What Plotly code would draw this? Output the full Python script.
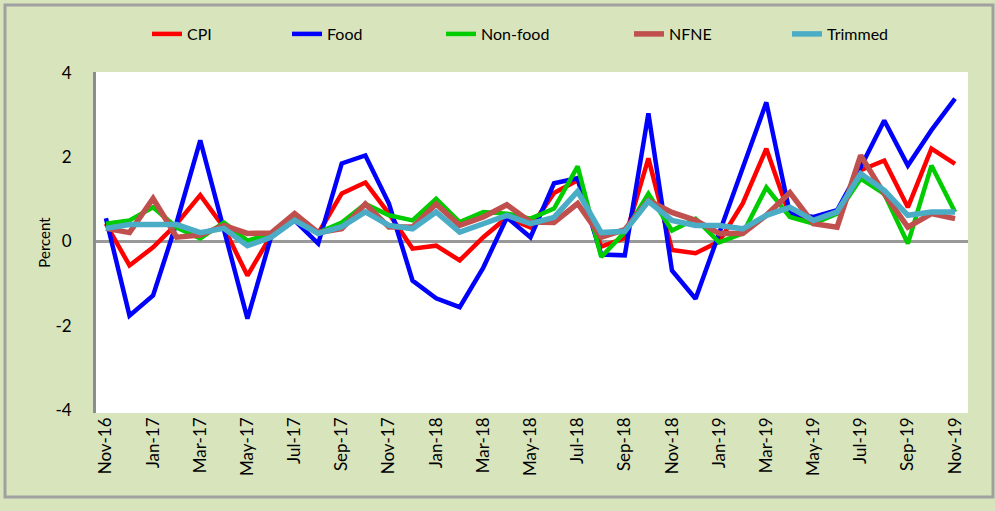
import plotly.graph_objects as go

months = ["Nov-16", "Dec-16", "Jan-17", "Feb-17", "Mar-17", "Apr-17", "May-17", "Jun-17",
          "Jul-17", "Aug-17", "Sep-17", "Oct-17", "Nov-17", "Dec-17", "Jan-18", "Feb-18",
          "Mar-18", "Apr-18", "May-18", "Jun-18", "Jul-18", "Aug-18", "Sep-18", "Oct-18",
          "Nov-18", "Dec-18", "Jan-19", "Feb-19", "Mar-19", "Apr-19", "May-19", "Jun-19",
          "Jul-19", "Aug-19", "Sep-19", "Oct-19", "Nov-19"]

cpi = [0.42, -0.57, -0.14, 0.42, 1.1, 0.33, -0.81, 0.14, 0.57, 0.19, 1.14, 1.4, 0.66,
       -0.17, -0.1, -0.45, 0.1, 0.57, 0.33, 1.15, 1.45, -0.12, 0.08, 1.97, -0.2, -0.28,
       0.0, 0.9, 2.2, 0.6, 0.5, 0.7, 1.69, 1.92, 0.81, 2.2, 1.84]
food = [0.55, -1.76, -1.28, 0.45, 2.4, 0.26, -1.83, 0.1, 0.5, -0.05, 1.85, 2.04, 0.9,
        -0.93, -1.35, -1.56, -0.62, 0.57, 0.1, 1.38, 1.5, -0.31, -0.33, 3.04, -0.69, -1.36,
        0.18, 1.76, 3.3, 0.66, 0.58, 0.74, 1.76, 2.87, 1.8, 2.64, 3.39]
nonfood = [0.42, 0.5, 0.81, 0.33, 0.07, 0.45, 0.02, 0.19, 0.57, 0.21, 0.45, 0.89, 0.62,
           0.5, 1.01, 0.46, 0.7, 0.66, 0.54, 0.78, 1.78, -0.37, 0.22, 1.13, 0.26, 0.54,
           -0.02, 0.19, 1.28, 0.58, 0.42, 0.66, 1.49, 1.13, -0.05, 1.8, 0.7]
nfne = [0.31, 0.21, 1.02, 0.1, 0.15, 0.38, 0.19, 0.2, 0.66, 0.21, 0.3, 0.89, 0.34,
        0.34, 0.89, 0.38, 0.58, 0.87, 0.46, 0.45, 0.9, 0.1, 0.28, 0.97, 0.69, 0.5,
        0.19, 0.19, 0.62, 1.16, 0.42, 0.34, 2.04, 1.13, 0.34, 0.66, 0.54]
trimmed = [0.31, 0.4, 0.4, 0.4, 0.21, 0.31, -0.1, 0.1, 0.5, 0.19, 0.35, 0.7, 0.38,
           0.3, 0.7, 0.22, 0.42, 0.62, 0.42, 0.57, 1.19, 0.21, 0.24, 0.95, 0.5, 0.38,
           0.38, 0.3, 0.62, 0.81, 0.5, 0.7, 1.61, 1.21, 0.62, 0.7, 0.7]

y_ticks = [-4, -2, 0, 2, 4]
y_ticklabels = ["-4", "-2", "0", "2", "4"]

series = [
    ("CPI", cpi, "#FF0000", 4.5),
    ("Food", food, "#0000FF", 4.5),
    ("Non-food", nonfood, "#00CC00", 4.5),
    ("NFNE", nfne, "#C0504D", 5.5),
    ("Trimmed", trimmed, "#4BACC6", 5.5),
]
# pixel x where each legend entry's text begins in the reference
legend_text_px = [187, 327, 481, 669, 827]

FONT = "Lato, 'Open Sans', sans-serif"
L, R, T, B = 96, 27, 72, 98
PW, PH = 995 - L - R, 511 - T - B

fig = go.Figure()
xs = list(range(len(months)))
layout_legends = {}
for k, (name, vals, color, w) in enumerate(series):
    lname = "legend" if k == 0 else f"legend{k + 1}"
    fig.add_trace(go.Scatter(x=xs, y=vals, name=name, mode="lines",
                             line=dict(color=color, width=w), legend=lname))
    layout_legends[lname] = dict(
        x=(legend_text_px[k] - 40 - L) / PW, xanchor="left",
        y=(T + PH - 34) / PH, yanchor="middle",
        font=dict(size=16, family=FONT, color="#000000"),
        itemwidth=30, bgcolor="rgba(0,0,0,0)", orientation="h")

fig.update_layout(
    width=995, height=511,
    paper_bgcolor="#D8E4BC",
    plot_bgcolor="#FFFFFF",
    margin=dict(l=L, r=R, t=T, b=B, autoexpand=False),
    font=dict(family=FONT, color="#000000", size=15),
    showlegend=True,
    xaxis=dict(range=[-0.42, 36.55], tickmode="array", tickvals=xs[::2], ticktext=months[::2],
               tickangle=-90, showgrid=False, zeroline=False, showline=False,
               ticks="", tickfont=dict(size=17, family=FONT)),
    yaxis=dict(range=[-4.07, 4.02], tickmode="array", tickvals=y_ticks, ticktext=y_ticklabels,
               showgrid=False, zeroline=True, zerolinecolor="#999999", zerolinewidth=3,
               showline=True, linecolor="#8C8C8C", linewidth=3, ticks="",
               ticklabelstandoff=18, tickfont=dict(size=17, family=FONT),
               title=dict(text="Percent", font=dict(size=15, family=FONT), standoff=2)),
    **layout_legends,
)

# outer chart border
fig.add_shape(type="rect", xref="paper", yref="paper",
              x0=(5 - L) / PW, x1=(993 - L) / PW,
              y0=(T + PH - 497) / PH, y1=(T + PH - 5) / PH,
              line=dict(color="#A0A0A0", width=3), fillcolor="rgba(0,0,0,0)", layer="below")

fig.write_html("out.html", config={"displayModeBar": False},
               post_script="document.body.style.margin='0px';")
